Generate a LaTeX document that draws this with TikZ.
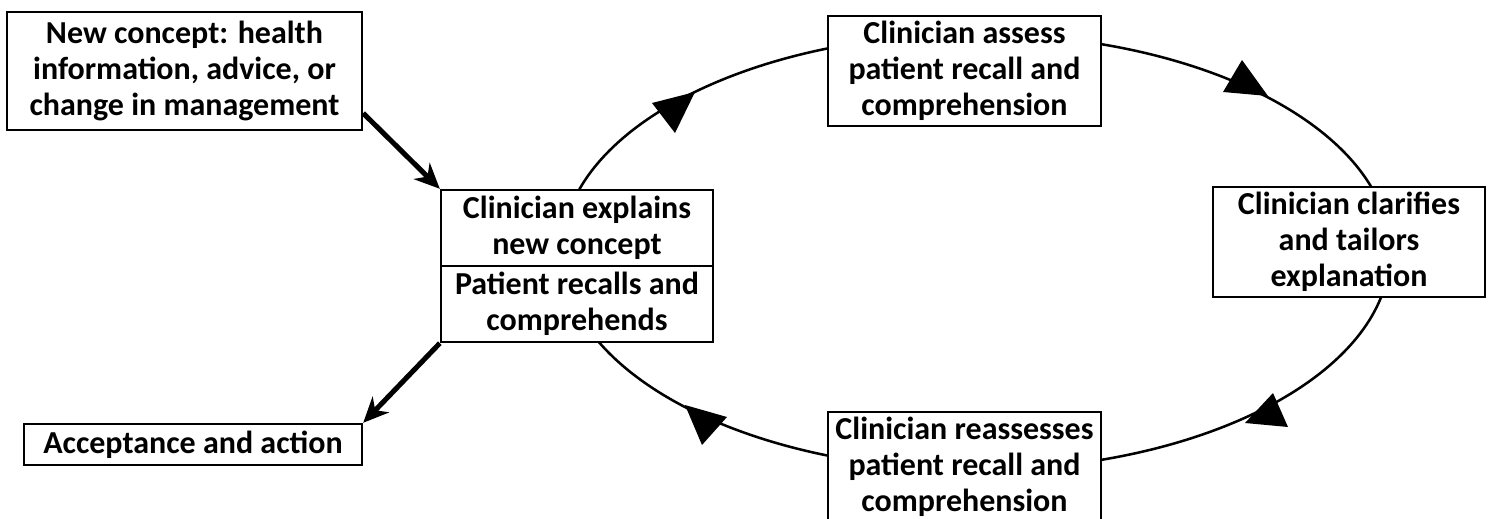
\documentclass[tikz,border=0pt]{standalone}
\usepackage{fontspec}
\setmainfont{Carlito}
\usetikzlibrary{arrows.meta,calc}
\begin{document}
\begin{tikzpicture}[x=0.75pt,y=-0.75pt,
  box/.style={draw, line width=1.8pt, fill=white, align=center, inner sep=0pt,
    font=\fontsize{24}{27}\selectfont\bfseries},
  cyc/.style={line width=1.9pt},
  thickarrow/.style={line width=3.8pt, -{Stealth[length=19pt,width=17pt,inset=6pt]}},
]
\useasboundingbox (0,0) rectangle (1492,518);
\clip (0,0) rectangle (1492,518);

% cycle
\coordinate (O) at (976,252);
\draw[cyc] (O) ellipse [x radius=414, y radius=218];
\fill (652,103) -- (695,92) -- (675,133) -- cycle;
\fill (1242,60) -- (1268,96) -- (1223,92) -- cycle;
\fill (1273,393) -- (1288,427) -- (1245,423) -- cycle;
\fill (685,405) -- (727,417) -- (702,445) -- cycle;

% boxes
\node[box, minimum width={355*0.75pt}, minimum height={118*0.75pt}] (A) at (184.5,71)
  {New concept: health\\information, advice, or\\change in management};
\node[box, minimum width={272*0.75pt}, minimum height={76*0.75pt}] (B1) at (577,228)
  {Clinician explains\\new concept};
\node[box, minimum width={272*0.75pt}, minimum height={76*0.75pt}] (B2) at (577,304)
  {Patient recalls and\\comprehends};
\node[box, minimum width={338*0.75pt}, minimum height={41*0.75pt}] (C) at (193,444.5)
  {Acceptance and action};
\node[box, minimum width={273*0.75pt}, minimum height={110*0.75pt}] (D) at (964.5,71)
  {Clinician assess\\patient recall and\\comprehension};
\node[box, minimum width={272*0.75pt}, minimum height={110*0.75pt}] (E) at (1349,242)
  {Clinician clarifies\\and tailors\\explanation};
\node[box, minimum width={273*0.75pt}, minimum height={110*0.75pt}] (F) at (964.5,467)
  {Clinician reassesses\\patient recall and\\comprehension};

% arrows
\draw[thickarrow] ($(A.south east)+(0,-18)$) -- (B1.north west);
\draw[thickarrow] (B2.south west) -- (C.north east);
\end{tikzpicture}
\end{document}
